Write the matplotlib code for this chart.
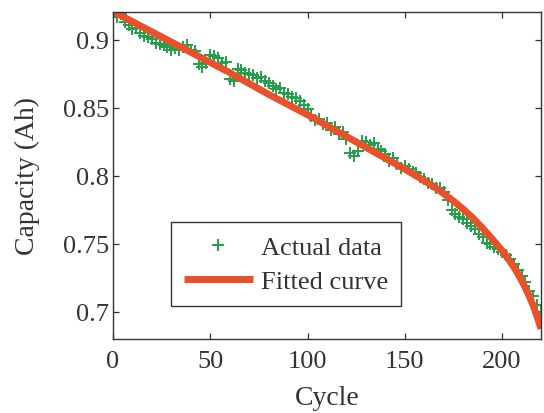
import numpy as np
import matplotlib
matplotlib.use('Agg')
import matplotlib.pyplot as plt

# Measured capacity, read every 2 cycles
cycle = np.arange(0, 221, 2)
capacity = [
    0.920, 0.917, 0.919, 0.913, 0.911, 0.908, 0.909, 0.905, 0.903, 0.902,
    0.901, 0.898, 0.897, 0.896, 0.895, 0.893, 0.894, 0.893, 0.895, 0.896,
    0.893, 0.892, 0.882, 0.880, 0.883, 0.889, 0.888, 0.887, 0.883, 0.884,
    0.871, 0.870, 0.879, 0.878, 0.876, 0.875, 0.874, 0.872, 0.873, 0.870,
    0.868, 0.866, 0.864, 0.865, 0.861, 0.860, 0.858, 0.857, 0.855, 0.852,
    0.849, 0.844, 0.841, 0.842, 0.838, 0.839, 0.834, 0.836, 0.831, 0.832,
    0.827, 0.817, 0.815, 0.818, 0.826, 0.825, 0.823, 0.824, 0.820, 0.818,
    0.816, 0.811, 0.813, 0.809, 0.806, 0.807, 0.805, 0.803, 0.802, 0.799,
    0.798, 0.795, 0.794, 0.791, 0.791, 0.788, 0.782, 0.775, 0.772, 0.770,
    0.768, 0.765, 0.763, 0.761, 0.757, 0.755, 0.751, 0.750, 0.748, 0.746,
    0.744, 0.742, 0.739, 0.735, 0.731, 0.726, 0.722, 0.715, 0.712, 0.705,
    0.700,
]

# Fitted curve
fit_cycle = [0, 20, 40, 60, 80, 100, 120, 140, 150, 160, 165, 170, 175, 180,
             185, 190, 195, 200, 202, 204, 206, 208, 210, 212, 214, 216, 218, 220]
fit_capacity = [0.921, 0.906, 0.891, 0.876, 0.860, 0.845, 0.829, 0.813, 0.805,
                0.7965, 0.792, 0.787, 0.7815, 0.7755, 0.769, 0.7615, 0.7535,
                0.745, 0.7413, 0.7373, 0.733, 0.7283, 0.7232, 0.7176, 0.7114,
                0.7045, 0.6965, 0.6875]

x_ticks = [0, 50, 100, 150, 200]
y_ticks = [0.7, 0.75, 0.8, 0.85, 0.9]
y_tick_labels = ['0.7', '0.75', '0.8', '0.85', '0.9']

COLOR_DATA = '#23A04A'
COLOR_FIT = '#E8512A'
COLOR_INK = '#333333'

plt.rcParams['font.family'] = ['Liberation Serif', 'DejaVu Serif']

fig = plt.figure(figsize=(5.44, 4.14), dpi=100)
ax = fig.add_axes([113 / 544, 1 - 340 / 414, 428 / 544, 327 / 414])

ax.plot(cycle, capacity, linestyle='none', marker='+', markersize=8,
        markeredgewidth=1.4, color=COLOR_DATA, label='Actual data')
ax.plot(fit_cycle, fit_capacity, color=COLOR_FIT, linewidth=5,
        solid_capstyle='butt', solid_joinstyle='round', label='Fitted curve')

ax.set_xlim(0, 220)
ax.set_ylim(0.68, 0.9206)
ax.set_xticks(x_ticks)
ax.set_yticks(y_ticks)
ax.set_yticklabels(y_tick_labels)
ax.tick_params(axis='both', direction='in', length=4, width=0.9,
               top=True, right=True, labelsize=19, colors=COLOR_INK)
ax.tick_params(axis='x', pad=8)
ax.tick_params(axis='y', pad=3)
for s in ax.spines.values():
    s.set_linewidth(1.0)
    s.set_color(COLOR_INK)

ax.set_xlabel('Cycle', fontsize=20, color=COLOR_INK, labelpad=9)
ax.set_ylabel('Capacity (Ah)', fontsize=20, color=COLOR_INK, labelpad=16)

leg = ax.legend(loc='lower left', bbox_to_anchor=(0.1355, 0.101),
                borderaxespad=0, fancybox=False, framealpha=1,
                edgecolor=COLOR_INK, fontsize=19, handlelength=2.6,
                handletextpad=0.3, labelspacing=0.4, borderpad=0.5)
leg.get_frame().set_linewidth(1.0)
for t in leg.get_texts():
    t.set_color(COLOR_INK)

fig.savefig('out.png', dpi=100)
